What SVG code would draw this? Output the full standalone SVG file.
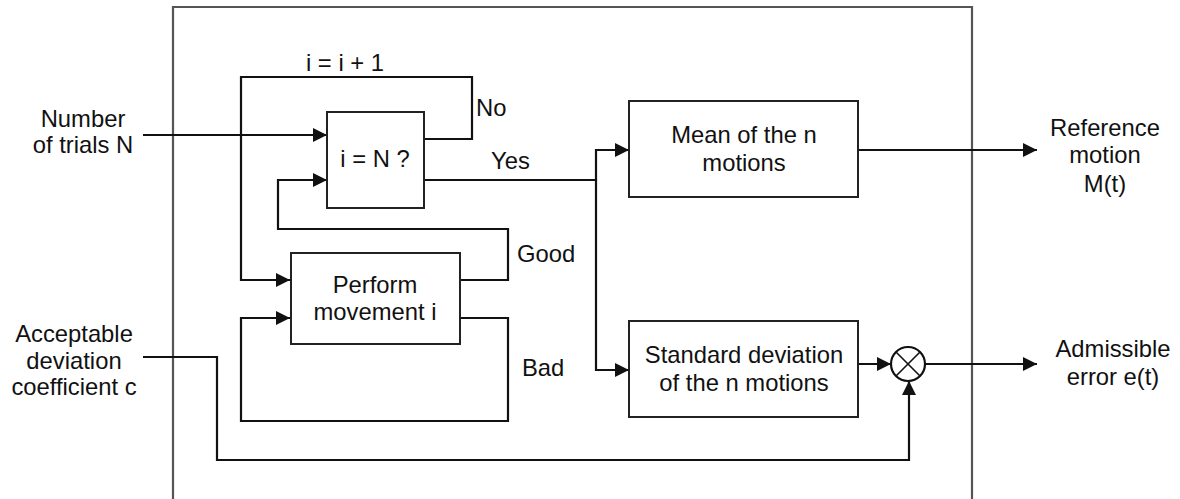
<svg xmlns="http://www.w3.org/2000/svg" width="1180" height="499" viewBox="0 0 1180 499">
<style>
text{font-family:"Liberation Sans",Arial,sans-serif;font-size:23.8px;fill:#111}
.c{text-anchor:middle}
.box{fill:#fff;stroke:#222;stroke-width:2}
.ln{fill:none;stroke:#111;stroke-width:2.2}
.frame{fill:none;stroke:#555;stroke-width:2.2}
</style>
<defs>
<marker id="ah" markerUnits="userSpaceOnUse" markerWidth="16" markerHeight="16" refX="14" refY="7" orient="auto">
<path d="M0,0 L14,7 L0,14 Z" fill="#111"/>
</marker>
</defs>
<path class="frame" d="M173,499 V7 H972 V499"/>
<g id="connectors">
<path class="ln" d="M143,135 H327" marker-end="url(#ah)"/>
<path class="ln" d="M424,139 H472 V77 H241 V280 H290" marker-end="url(#ah)"/>
<path class="ln" d="M460,280 H508 V229 H278 V180 H327" marker-end="url(#ah)"/>
<path class="ln" d="M460,318 H508 V421 H241 V318 H290" marker-end="url(#ah)"/>
<path class="ln" d="M424,180 H596 V150 H629" marker-end="url(#ah)"/>
<path class="ln" d="M596,180 V370 H629" marker-end="url(#ah)"/>
<path class="ln" d="M858,150 H1037" marker-end="url(#ah)"/>
<path class="ln" d="M858,364 H891" marker-end="url(#ah)"/>
<path class="ln" d="M926,364 H1037" marker-end="url(#ah)"/>
<path class="ln" d="M143,357 H217 V460 H909 V381" marker-end="url(#ah)"/>
<text x="345" y="71" class="c">i = i + 1</text>
<text x="476" y="116">No</text>
<text x="491" y="169">Yes</text>
<text x="517" y="262">Good</text>
<text x="522" y="376">Bad</text>
</g>
<g id="input-n">
<text x="83" y="127" class="c">Number</text>
<text x="83" y="153" class="c">of trials N</text>
</g>
<g id="input-c">
<text x="74" y="342" class="c">Acceptable</text>
<text x="74" y="369" class="c">deviation</text>
<text x="74" y="395" class="c">coefficient c</text>
</g>
<g id="check">
<rect class="box" x="327" y="112" width="97" height="96"/>
<text x="375" y="167" class="c">i = N ?</text>
</g>
<g id="perform">
<rect class="box" x="291" y="253" width="169" height="91"/>
<text x="375" y="293" class="c">Perform</text>
<text x="375" y="320" class="c">movement i</text>
</g>
<g id="mean">
<rect class="box" x="629" y="101" width="229" height="96"/>
<text x="744" y="143" class="c">Mean of the n</text>
<text x="744" y="171" class="c">motions</text>
</g>
<g id="std">
<rect class="box" x="629" y="321" width="229" height="96"/>
<text x="744" y="363" class="c">Standard deviation</text>
<text x="744" y="391" class="c">of the n motions</text>
</g>
<g id="multiplier">
<circle cx="908" cy="364" r="17" fill="#fff" stroke="#111" stroke-width="2.2"/>
<path d="M896,352 L920,376 M920,352 L896,376" stroke="#111" stroke-width="1.6"/>
</g>
<g id="out-ref">
<text x="1105" y="136" class="c">Reference</text>
<text x="1105" y="163" class="c">motion</text>
<text x="1105" y="192" class="c">M(t)</text>
</g>
<g id="out-err">
<text x="1113" y="357" class="c">Admissible</text>
<text x="1113" y="385" class="c">error e(t)</text>
</g>
</svg>
